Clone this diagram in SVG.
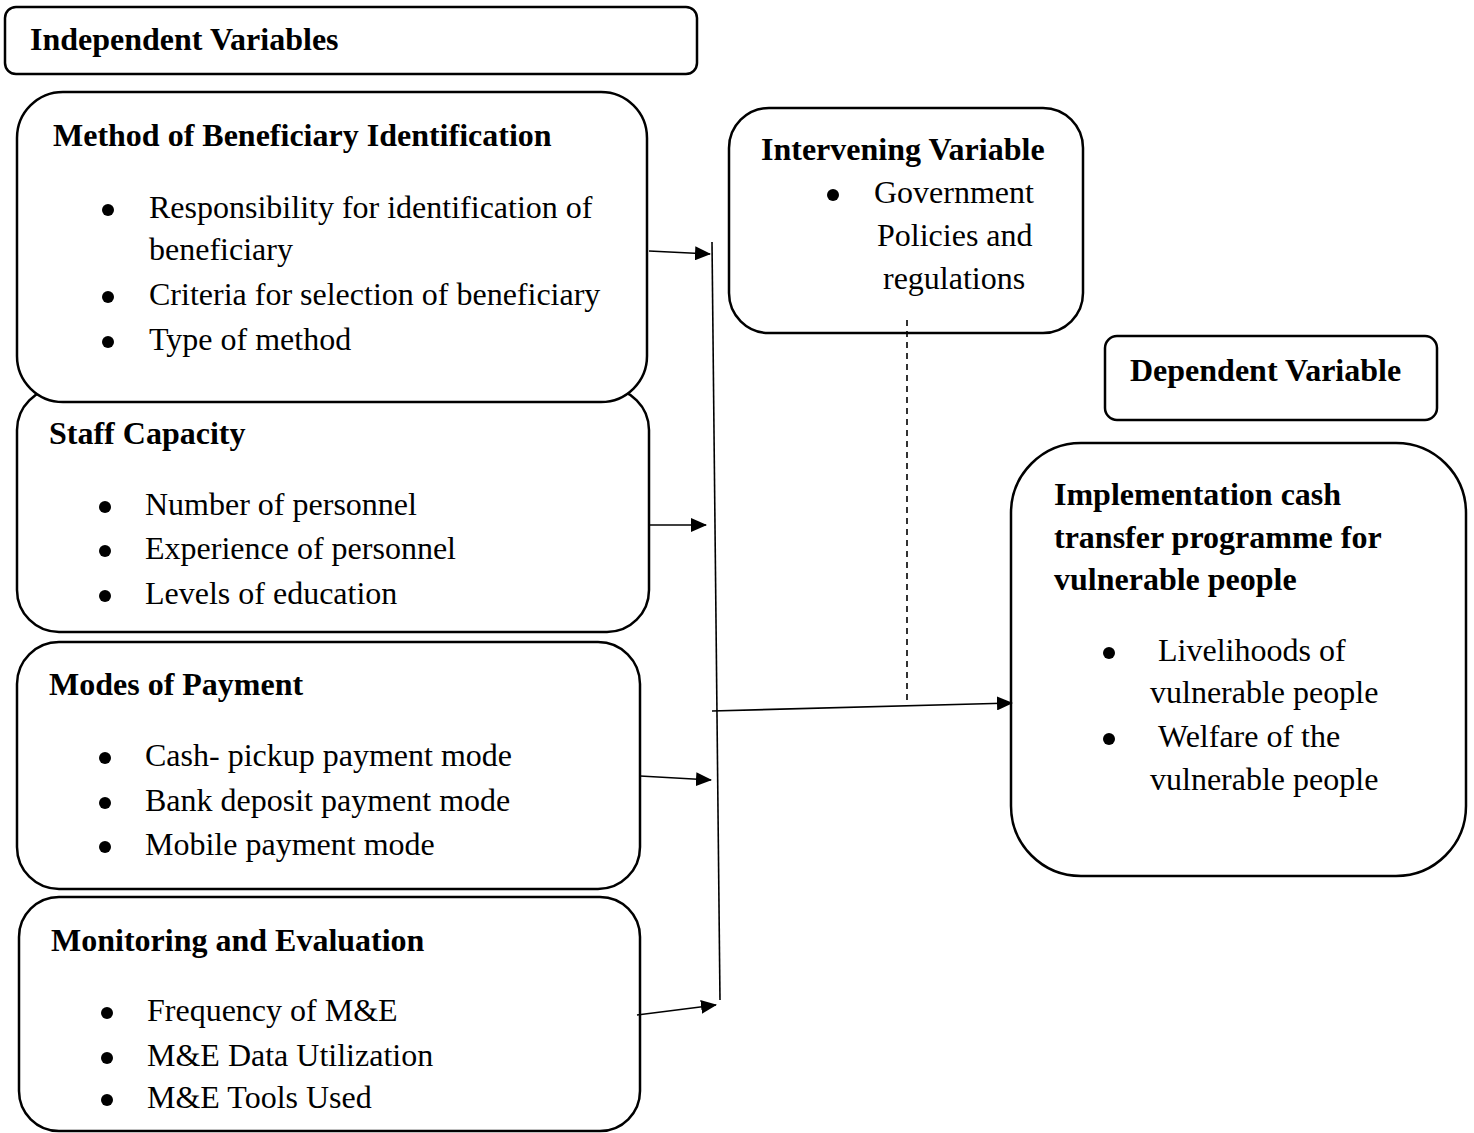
<svg xmlns="http://www.w3.org/2000/svg" width="1474" height="1133" viewBox="0 0 1474 1133">
<style>
.box{fill:#fff;stroke:#000;stroke-width:2.5}
text{font-family:"Liberation Serif","Times New Roman",serif;font-size:32px;fill:#000}
.b{font-weight:bold}
.bu{fill:#000}
.ln{stroke:#000;stroke-width:1.6;fill:none}
</style>
<defs>
<marker id="ah" markerWidth="16" markerHeight="14" refX="15" refY="7" orient="auto" markerUnits="userSpaceOnUse">
<path d="M0,0 L16,7 L0,14 z" fill="#000"/>
</marker>
</defs>
<rect width="1474" height="1133" fill="#fff"/>

<g id="independent-header">
<rect class="box" x="5" y="7" width="692" height="67" rx="11"/>
<text class="b" x="30" y="50">Independent Variables</text>
</g>

<g id="staff-capacity">
<rect class="box" x="17" y="388" width="632" height="244" rx="42"/>
<text class="b" x="49" y="444">Staff Capacity</text>
<circle class="bu" cx="105" cy="507" r="6"/><text x="145" y="515">Number of personnel</text>
<circle class="bu" cx="105" cy="551" r="6"/><text x="145" y="559">Experience of personnel</text>
<circle class="bu" cx="105" cy="596" r="6"/><text x="145" y="604">Levels of education</text>
</g>

<g id="method-beneficiary">
<rect class="box" x="17" y="92" width="630" height="310" rx="46"/>
<text class="b" x="53" y="146">Method of Beneficiary Identification</text>
<circle class="bu" cx="108" cy="210" r="6"/><text x="149" y="218">Responsibility for identification of</text>
<text x="149" y="260">beneficiary</text>
<circle class="bu" cx="108" cy="297" r="6"/><text x="149" y="305">Criteria for selection of beneficiary</text>
<circle class="bu" cx="108" cy="342" r="6"/><text x="149" y="350">Type of method</text>
</g>

<g id="modes-payment">
<rect class="box" x="17" y="642" width="623" height="247" rx="42"/>
<text class="b" x="49" y="695">Modes of Payment</text>
<circle class="bu" cx="105" cy="758" r="6"/><text x="145" y="766">Cash- pickup payment mode</text>
<circle class="bu" cx="105" cy="803" r="6"/><text x="145" y="811">Bank deposit payment mode</text>
<circle class="bu" cx="105" cy="847" r="6"/><text x="145" y="855">Mobile payment mode</text>
</g>

<g id="monitoring-evaluation">
<rect class="box" x="19" y="897" width="621" height="234" rx="40"/>
<text class="b" x="51" y="951">Monitoring and Evaluation</text>
<circle class="bu" cx="107" cy="1013" r="6"/><text x="147" y="1021">Frequency of M&amp;E</text>
<circle class="bu" cx="107" cy="1058" r="6"/><text x="147" y="1066">M&amp;E Data Utilization</text>
<circle class="bu" cx="107" cy="1100" r="6"/><text x="147" y="1108">M&amp;E Tools Used</text>
</g>

<g id="intervening">
<rect class="box" x="729" y="108" width="354" height="225" rx="40"/>
<text class="b" x="761" y="160">Intervening Variable</text>
<circle class="bu" cx="833" cy="195" r="6"/><text x="874" y="203">Government</text>
<text x="877" y="246">Policies and</text>
<text x="883" y="289">regulations</text>
</g>

<g id="dependent-header">
<rect class="box" x="1105" y="336" width="332" height="84" rx="12"/>
<text class="b" x="1130" y="381">Dependent Variable</text>
</g>

<g id="implementation">
<rect class="box" x="1011" y="443" width="455" height="433" rx="70"/>
<text class="b" x="1054" y="505">Implementation cash</text>
<text class="b" x="1054" y="548">transfer programme for</text>
<text class="b" x="1054" y="590">vulnerable people</text>
<circle class="bu" cx="1109" cy="653" r="6"/><text x="1158" y="661">Livelihoods of</text>
<text x="1150" y="703">vulnerable people</text>
<circle class="bu" cx="1109" cy="739" r="6"/><text x="1158" y="747">Welfare of the</text>
<text x="1150" y="790">vulnerable people</text>
</g>

<g id="connectors">
<line class="ln" x1="712" y1="242" x2="720" y2="1000"/>
<line class="ln" x1="649" y1="251" x2="710" y2="254" marker-end="url(#ah)"/>
<line class="ln" x1="649" y1="525" x2="706" y2="525" marker-end="url(#ah)"/>
<line class="ln" x1="640" y1="776" x2="711" y2="780" marker-end="url(#ah)"/>
<line class="ln" x1="637" y1="1015" x2="716" y2="1005" marker-end="url(#ah)"/>
<line class="ln" x1="712" y1="711" x2="1012" y2="703" marker-end="url(#ah)"/>
<line class="ln" x1="907" y1="320" x2="907" y2="703" stroke-dasharray="6,5"/>
</g>
</svg>
